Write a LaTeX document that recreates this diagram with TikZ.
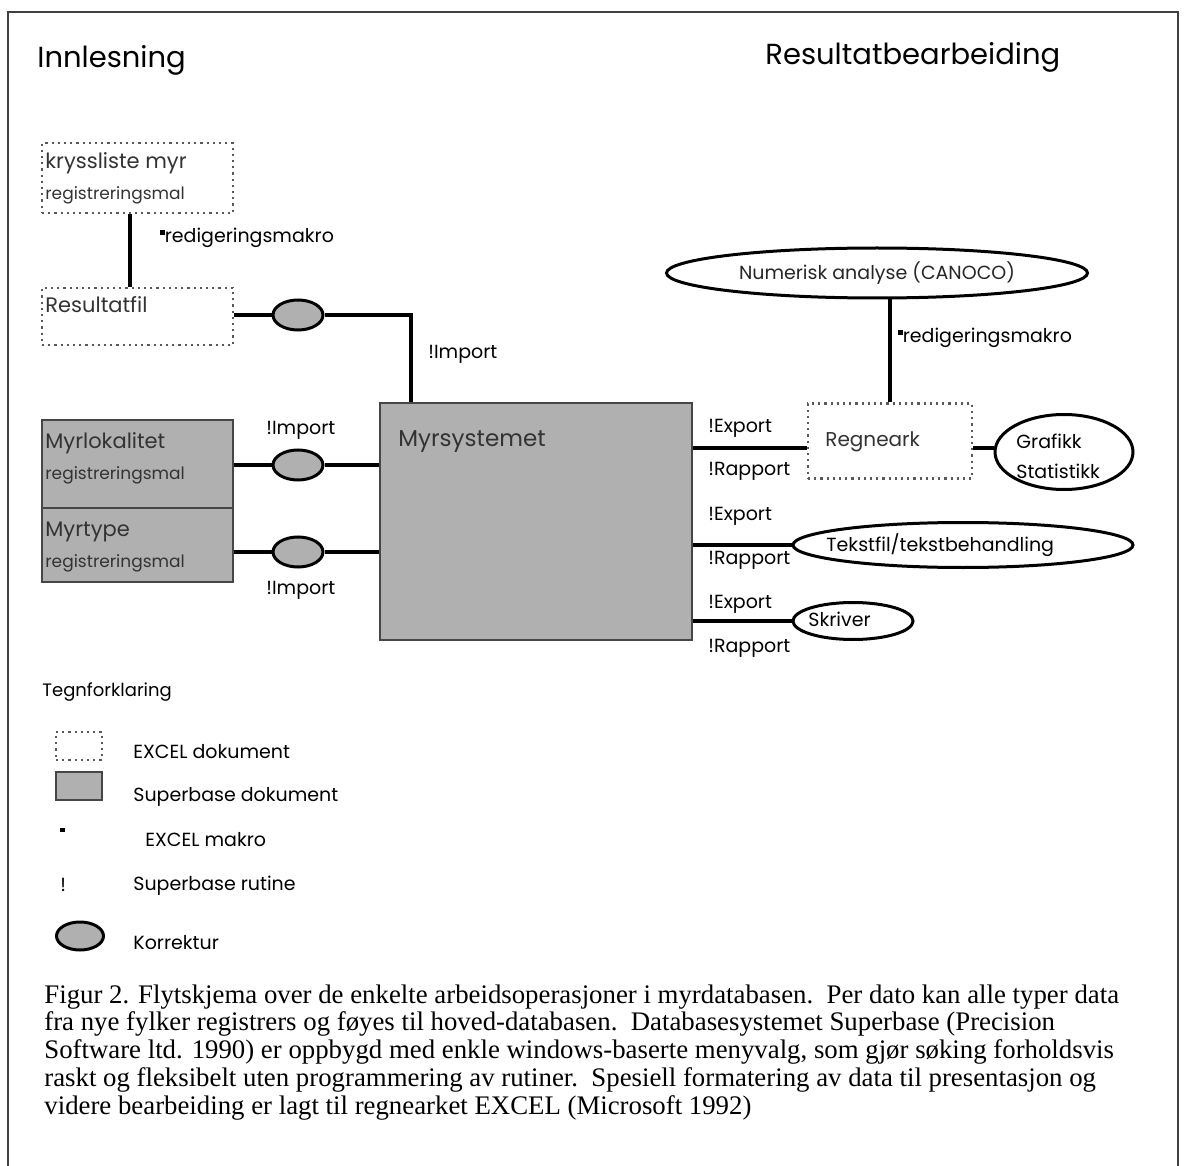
\documentclass[tikz,border=0pt]{standalone}
\usepackage{fontspec}
\setmainfont{Poppins}
\newfontfamily\capfont{Liberation Serif}
\usetikzlibrary{shapes.geometric}
\newcommand{\makdot}{\raisebox{.75ex}{\rule{2.2pt}{2.2pt}}}
\begin{document}
\begin{tikzpicture}[x=0.5pt,y=-0.5pt,
				excelbox/.style={rectangle,draw=gray!70!black,dotted,line width=1.1pt,fill=white,inner sep=0pt},
				sbbox/.style={rectangle,draw=gray!55!black,line width=0.8pt,fill=gray!62,inner sep=0pt},
				korr/.style={ellipse,draw,line width=1.5pt,fill=gray!62,inner sep=0pt,minimum width=25pt,minimum height=15pt},
				oval/.style={ellipse,draw,line width=1.5pt,inner sep=0pt},
				lab/.style={anchor=west,inner sep=0pt,font=\fontsize{9.5}{11}\selectfont},
				boxtxt/.style={anchor=west,inner sep=0pt,text=black!80,font=\fontsize{10.5}{12}\selectfont},
				smalltxt/.style={anchor=west,inner sep=0pt,text=black!80,font=\fontsize{8.5}{10}\selectfont},
				line/.style={line width=1.8pt}]
\useasboundingbox (0,0) rectangle (1184,1166);
\draw[line width=0.8pt,gray!50!black] (8,1166) -- (8,12) -- (1178,12) -- (1178,1166);
\node[anchor=west,inner sep=0pt,font=\fontsize{14.5}{16}\selectfont] (inn) at (37,60) {Innlesning};
\node[anchor=west,inner sep=0pt,font=\fontsize{14.5}{16}\selectfont] (resb) at (765,57) {Resultatbearbeiding};
% innlesning
\node[excelbox,minimum width=95.5pt,minimum height=35pt] (kryss) at (137.5,178) {};
\node[boxtxt] at (45,163) {kryssliste myr};
\node[smalltxt] at (45,195) {registreringsmal};
\node[excelbox,minimum width=95.5pt,minimum height=28.5pt] (resfil) at (137.5,316.5) {};
\node[boxtxt] at (45,305) {Resultatfil};
\node[sbbox,minimum width=95.5pt,minimum height=44pt] (lok) at (137.5,464) {};
\node[boxtxt] at (45,443) {Myrlokalitet};
\node[smalltxt] at (45,475) {registreringsmal};
\node[sbbox,minimum width=95.5pt,minimum height=37pt] (typ) at (137.5,545) {};
\node[boxtxt] at (45,532) {Myrtype};
\node[smalltxt] at (45,563) {registreringsmal};
\node[sbbox,minimum width=156pt,minimum height=118.5pt] (myr) at (536,521.5) {};
\node[boxtxt,font=\fontsize{11.5}{13}\selectfont] at (398,442) {Myrsystemet};
\node[korr] (k1) at (298,315) {};
\node[korr] (k2) at (298,465) {};
\node[korr] (k3) at (298,552) {};
\draw[line] ([xshift=-3.75pt]kryss.south) -- ([xshift=-3.75pt]resfil.north);
\draw[line] (resfil.east |- k1) -- (k1.west);
\draw[line] (k1.east) -| ([xshift=16pt]myr.north west);
\draw[line] (lok.east |- k2) -- (k2.west);
\draw[line] (k2.east) -- (k2 -| myr.west);
\draw[line] (typ.east |- k3) -- (k3.west);
\draw[line] (k3.east) -- (k3 -| myr.west);
\node[lab] at (160,238) {\makdot redigeringsmakro};
\node[lab] at (428,354) {!Import};
\node[lab] at (266,430) {!Import};
\node[lab] at (266,590) {!Import};
% resultatbearbeiding
\node[oval,minimum width=210.5pt,minimum height=25pt,font=\fontsize{9.5}{11}\selectfont,text=black!85] (numa) at (877,273) {Numerisk analyse (CANOCO)};
\node[excelbox,minimum width=82pt,minimum height=37.5pt] (regn) at (890,441) {};
\node[boxtxt,font=\fontsize{10}{12}\selectfont] at (825,442) {Regneark};
\coordinate (rx) at ([yshift=-3.5pt]regn.west);
\node[oval,minimum width=69pt,minimum height=37.5pt] (graf) at (1064,452) {};
\node[lab] at (1016,441) {Grafikk};
\node[lab] at (1016,471) {Statistikk};
\node[oval,minimum width=170pt,minimum height=22.5pt] (tekst) at (963,545) {};
\node[lab] at (826,545) {Tekstfil/tekstbehandling};
\node[oval,minimum width=60pt,minimum height=18.5pt] (skriv) at (853,621) {};
\node[lab] at (808,619) {Skriver};
\draw[line] (regn.north) -- (regn.north |- numa.south);
\draw[line] (rx -| myr.east) -- (rx);
\draw[line] (rx -| regn.east) -- (rx -| graf.west);
\draw[line] (tekst.west -| myr.east) -- (tekst.west);
\draw[line] (skriv.west -| myr.east) -- (skriv.west);
\node[lab] at (898,338) {\makdot redigeringsmakro};
\foreach \ye/\yr in {428/471,516/560,604/648} {
	\node[lab] at (708,\ye) {!Export};
	\node[lab] at (708,\yr) {!Rapport};
}
% tegnforklaring
\node[lab,font=\fontsize{9}{11}\selectfont] at (42,692) {Tegnforklaring};
\node[excelbox,minimum width=23pt,minimum height=14pt] (lgx) at (79,746) {};
\node[lab] at (133,752) {EXCEL dokument};
\node[sbbox,minimum width=23pt,minimum height=14pt] (lgs) at (79,786) {};
\node[lab] at (133,797) {Superbase dokument};
\node[lab] at (60,834) {\makdot};
\node[lab] at (145,840) {EXCEL makro};
\node[lab] at (60,885) {!};
\node[lab] at (133,886) {Superbase rutine};
\node[korr,minimum width=23.5pt,minimum height=14pt] (lgk) at (80,936) {};
\node[lab] at (133,943) {Korrektur};
% figurtekst
\node[anchor=north west,inner sep=0pt,align=left,font=\capfont\fontsize{13.4}{13.9}\selectfont] (capt) at (44,984) {Figur 2. Flytskjema over de enkelte arbeidsoperasjoner i myrdatabasen.\ \ Per dato kan alle typer data\\
fra nye fylker registrers og føyes til hoved-databasen.\ \ Databasesystemet Superbase (Precision\\
Software ltd. 1990) er oppbygd med enkle windows-baserte menyvalg, som gjør søking forholdsvis\\
raskt og fleksibelt uten programmering av rutiner.\ \ Spesiell formatering av data til presentasjon og\\
videre bearbeiding er lagt til regnearket EXCEL (Microsoft 1992)};
\end{tikzpicture}
\end{document}
